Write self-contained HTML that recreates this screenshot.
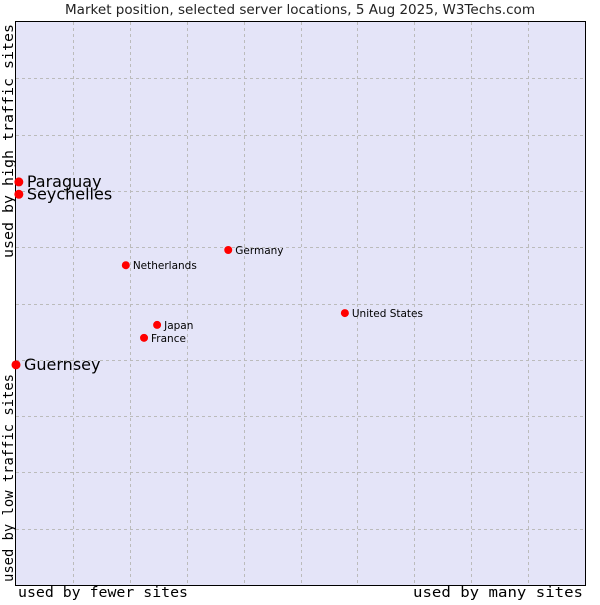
<!DOCTYPE html>
<html><head><meta charset="utf-8"><style>
body{margin:0;background:#fff;width:600px;height:600px;overflow:hidden}
svg text{font-family:"DejaVu Sans","Liberation Sans",sans-serif}
.m{font-family:"DejaVu Sans Mono","Liberation Mono",monospace !important}
</style></head><body>
<svg id="c" width="600" height="600">
<text x="65" y="14" textLength="470" lengthAdjust="spacingAndGlyphs" font-size="13" fill="#222">Market position, selected server locations, 5 Aug 2025, W3Techs.com</text>
<rect x="15.5" y="21.5" width="570" height="564" fill="#e4e4f8" stroke="#000"/>
<g id="grid"></g>
<g id="pts"></g>
<text class="m" x="18" y="597" textLength="170" lengthAdjust="spacingAndGlyphs" font-size="14">used by fewer sites</text>
<text class="m" x="413" y="597" textLength="170" lengthAdjust="spacingAndGlyphs" font-size="14">used by many sites</text>
<text class="m" transform="translate(13,582) rotate(-90)" textLength="208" lengthAdjust="spacingAndGlyphs" font-size="14">used by low traffic sites</text>
<text class="m" transform="translate(13,258) rotate(-90)" textLength="234" lengthAdjust="spacingAndGlyphs" font-size="14">used by high traffic sites</text>
</svg>
<script>
const names=["Paraguay","Seychelles","Guernsey","Netherlands","Germany","United States","Japan","France"];
const xs=[0.5,0.5,0,19.3,37.3,57.8,24.8,22.5];
const ys=[71.6,69.4,39.1,56.8,59.5,48.3,46.2,43.9];
const big=[true,true,true,false,false,false,false,false];
const L=16,R=585,T=22,B=585;
const sx=v=>L+v/100*(R-L), sy=v=>B-v/100*(B-T);
const NS="http://www.w3.org/2000/svg";
const g=document.getElementById('grid'),p=document.getElementById('pts');
for(let i=1;i<10;i++){
 const x=Math.round(sx(i*10))+0.5,y=Math.round(sy(i*10))+0.5;
 const v=document.createElementNS(NS,'line');
 
 
 v.setAttribute('x1',x);v.setAttribute('x2',x);v.setAttribute('y1',T);v.setAttribute('y2',B);
 v.setAttribute('stroke','#bbb');v.setAttribute('stroke-dasharray','3,3');g.appendChild(v);
 const h=document.createElementNS(NS,'line');
 
 
 h.setAttribute('x1',L);h.setAttribute('x2',R);h.setAttribute('y1',y);h.setAttribute('y2',y);
 h.setAttribute('stroke','#bbb');h.setAttribute('stroke-dasharray','3,3');g.appendChild(h);
}
names.forEach((n,i)=>{
 const x=sx(xs[i]),y=sy(ys[i]);
 const c=document.createElementNS(NS,'circle');
 
 
 c.setAttribute('cx',x);c.setAttribute('cy',y);c.setAttribute('r',big[i]?4.5:4);c.setAttribute('fill','#f00');p.appendChild(c);
 const t=document.createElementNS(NS,'text');
 
 
 t.setAttribute('x',x+(big[i]?8:7));t.setAttribute('y',y+(big[i]?5:4));
 t.setAttribute('font-size',big[i]?16:10.5);t.setAttribute('fill','#000');t.textContent=n;p.appendChild(t);
});
</script>
</body></html>
